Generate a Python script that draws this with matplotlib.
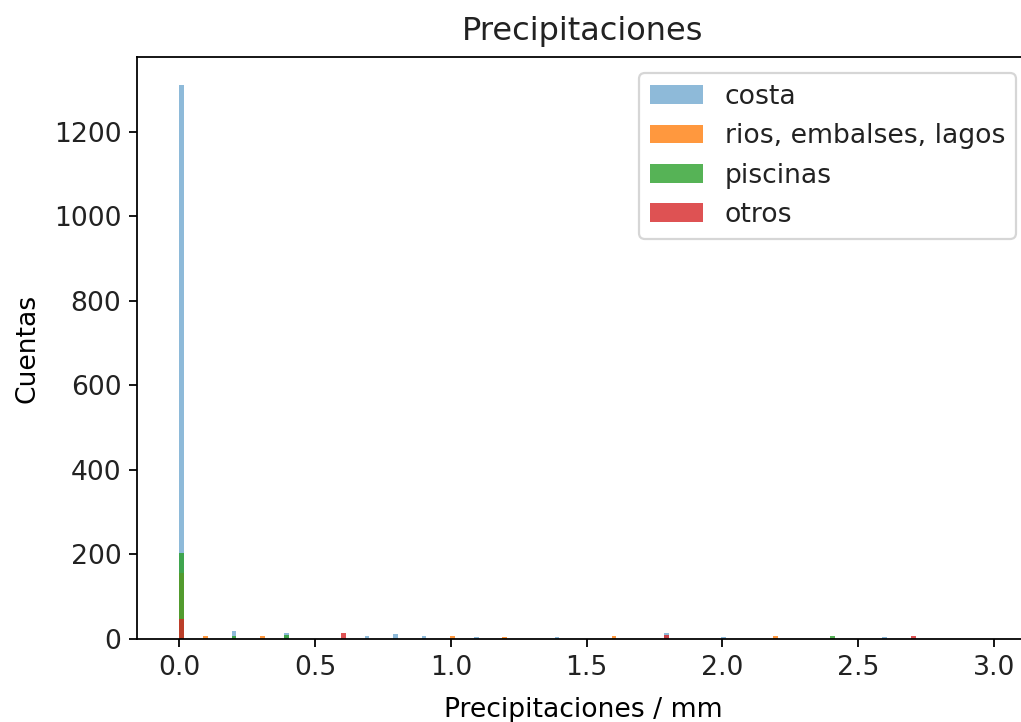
import numpy as np
import matplotlib
matplotlib.use("Agg")
from matplotlib import pyplot as plt

# precipitation values (mm) and how many days fall on each, per zone
costa_mm = [0.0, 0.2, 0.4, 0.7, 0.8, 0.9, 1.1, 1.4, 1.8, 2.0, 2.6]
costa_n = [1311, 20, 14, 6, 13, 6, 5, 5, 14, 5, 5]

rios_mm = [0.0, 0.1, 0.3, 1.0, 1.2, 1.6, 2.2]
rios_n = [156, 7, 7, 6, 5, 6, 6]

piscinas_mm = [0.0, 0.2, 0.4, 2.4]
piscinas_n = [204, 8, 10, 6]

otros_mm = [0.0, 0.6, 1.8, 2.7]
otros_n = [47, 14, 10, 6]

labels = ['costa', 'rios, embalses, lagos', 'piscinas', 'otros']
alphas = [0.5, 0.8, 0.8, 0.8]

bins = np.arange(0, 3.25, 0.0175)

plt.rcParams['font.size'] = 12
plt.rcParams['text.color'] = '#222222'
plt.rcParams['xtick.labelcolor'] = '#222222'
plt.rcParams['ytick.labelcolor'] = '#222222'

fig = plt.figure(figsize=(1021/160, 722/160), dpi=160)
ax = fig.add_axes([137/1021, 1 - 639/722, (1029 - 137)/1021, (639 - 57)/722])

for vals, counts, lab, a in zip([costa_mm, rios_mm, piscinas_mm, otros_mm],
                                [costa_n, rios_n, piscinas_n, otros_n], labels, alphas):
    ax.hist(vals, bins=bins, weights=counts, alpha=a, label=lab)

ax.set_xlim(-0.1565, 3.13)
ax.set_ylim(0, 1377)
ax.set_title('Precipitaciones', fontsize=14.4, pad=7.5)
ax.set_xlabel('Precipitaciones / mm', labelpad=7.5)
ax.set_ylabel('Cuentas', labelpad=6)
ax.legend(loc='upper right', bbox_to_anchor=(1.0, 0.995))

plt.savefig('out.png', dpi=160)
